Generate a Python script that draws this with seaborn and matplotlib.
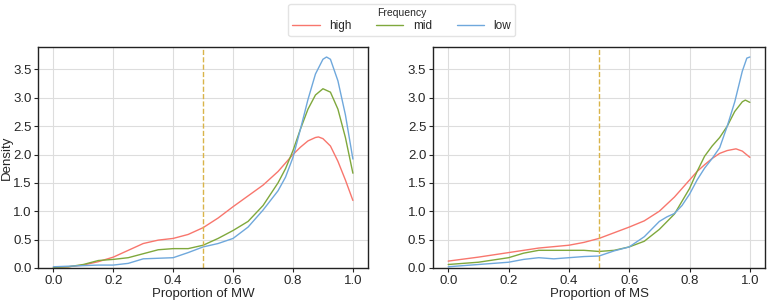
import numpy as np
import pandas as pd
import matplotlib
matplotlib.use("Agg")
import matplotlib.pyplot as plt
import seaborn as sns

# ---- values (density curves) ----
groups = ["high", "mid", "low"]
colors = {"high": "#F8766D", "mid": "#7FA83C", "low": "#6FA8DC"}

# left panel: Proportion of MW
mw_high_x = [0.0, 0.05, 0.1, 0.15, 0.2, 0.25, 0.3, 0.35, 0.4, 0.45, 0.5, 0.55, 0.6, 0.65, 0.7, 0.75,
             0.775, 0.8, 0.825, 0.85, 0.875, 0.885, 0.9, 0.925, 0.95, 0.975, 1.0]
mw_high_y = [0.01, 0.02, 0.05, 0.11, 0.19, 0.31, 0.43, 0.49, 0.52, 0.59, 0.71, 0.88, 1.08, 1.27, 1.46, 1.70,
             1.85, 2.00, 2.13, 2.24, 2.30, 2.31, 2.28, 2.15, 1.88, 1.55, 1.19]
mw_mid_x = [0.0, 0.05, 0.1, 0.15, 0.2, 0.25, 0.3, 0.35, 0.4, 0.45, 0.5, 0.55, 0.6, 0.65, 0.7, 0.75,
            0.775, 0.8, 0.825, 0.85, 0.875, 0.9, 0.925, 0.95, 0.975, 1.0]
mw_mid_y = [0.01, 0.02, 0.06, 0.13, 0.15, 0.18, 0.25, 0.32, 0.34, 0.34, 0.40, 0.52, 0.66, 0.82, 1.10, 1.50,
            1.75, 2.07, 2.45, 2.80, 3.05, 3.16, 3.10, 2.80, 2.30, 1.67]
mw_low_x = [0.0, 0.05, 0.1, 0.15, 0.2, 0.25, 0.3, 0.35, 0.4, 0.45, 0.5, 0.55, 0.6, 0.65, 0.7, 0.75,
            0.775, 0.8, 0.825, 0.85, 0.875, 0.9, 0.912, 0.925, 0.95, 0.975, 1.0]
mw_low_y = [0.02, 0.03, 0.04, 0.05, 0.05, 0.08, 0.16, 0.17, 0.18, 0.27, 0.37, 0.43, 0.52, 0.72, 1.02, 1.36,
            1.60, 1.95, 2.45, 2.97, 3.42, 3.68, 3.72, 3.68, 3.30, 2.70, 1.92]

# right panel: Proportion of MS
ms_high_x = [0.0, 0.1, 0.2, 0.3, 0.4, 0.45, 0.5, 0.55, 0.6, 0.65, 0.7, 0.75, 0.8, 0.825, 0.85, 0.875,
             0.9, 0.925, 0.954, 0.975, 1.0]
ms_high_y = [0.12, 0.19, 0.27, 0.35, 0.40, 0.45, 0.52, 0.62, 0.72, 0.83, 1.00, 1.25, 1.55, 1.70, 1.82, 1.93,
             2.02, 2.07, 2.10, 2.06, 1.95]
ms_mid_x = [0.0, 0.1, 0.2, 0.25, 0.3, 0.35, 0.4, 0.45, 0.5, 0.55, 0.6, 0.65, 0.7, 0.75, 0.8, 0.825,
            0.85, 0.875, 0.9, 0.925, 0.95, 0.975, 0.985, 1.0]
ms_mid_y = [0.06, 0.10, 0.18, 0.26, 0.31, 0.31, 0.31, 0.31, 0.29, 0.31, 0.37, 0.47, 0.68, 0.95, 1.40, 1.70,
            1.97, 2.15, 2.30, 2.50, 2.76, 2.93, 2.96, 2.92]
ms_low_x = [0.0, 0.1, 0.2, 0.25, 0.3, 0.35, 0.4, 0.45, 0.5, 0.55, 0.6, 0.65, 0.7, 0.725, 0.75, 0.775,
            0.8, 0.825, 0.85, 0.875, 0.9, 0.925, 0.95, 0.975, 0.99, 1.0]
ms_low_y = [0.02, 0.06, 0.10, 0.15, 0.18, 0.16, 0.18, 0.20, 0.21, 0.30, 0.37, 0.55, 0.82, 0.90, 0.96, 1.10,
            1.30, 1.55, 1.76, 1.93, 2.12, 2.50, 2.93, 3.47, 3.70, 3.72]


def long_df(parts):
    frames = []
    for name, xs, ys in parts:
        frames.append(pd.DataFrame({"x": xs, "density": ys, "Frequency": name}))
    return pd.concat(frames, ignore_index=True)


df_mw = long_df([("high", mw_high_x, mw_high_y), ("mid", mw_mid_x, mw_mid_y), ("low", mw_low_x, mw_low_y)])
df_ms = long_df([("high", ms_high_x, ms_high_y), ("mid", ms_mid_x, ms_mid_y), ("low", ms_low_x, ms_low_y)])

sns.set_theme(style="ticks")
plt.rcParams["font.family"] = ["Liberation Sans", "DejaVu Sans"]

fig = plt.figure(figsize=(7.68, 3.0), dpi=100)
ax1 = fig.add_axes([0.050, 0.107, 0.429, 0.737])
ax2 = fig.add_axes([0.564, 0.107, 0.432, 0.737])

for ax, df, xlabel in [(ax1, df_mw, "Proportion of MW"), (ax2, df_ms, "Proportion of MS")]:
    sns.lineplot(data=df, x="x", y="density", hue="Frequency", hue_order=groups,
                 palette=colors, estimator=None, linewidth=1.0, ax=ax, legend=False)
    ax.axvline(0.5, color="#D9B44A", linestyle="--", linewidth=1.0)
    ax.set_xlim(-0.05, 1.05)
    ax.set_ylim(0, 3.9)
    ax.set_xticks(np.arange(0, 1.01, 0.2))
    ax.set_yticks(np.arange(0, 3.6, 0.5))
    ax.grid(True, color="#dddddd", linewidth=0.8)
    ax.set_axisbelow(True)
    ax.tick_params(labelsize=9.5, length=3, width=0.8, pad=2)
    ax.set_xlabel(xlabel, fontsize=9.5, labelpad=1)
    for s in ax.spines.values():
        s.set_linewidth(1.0)
        s.set_color("#222222")

ax1.set_ylabel("Density", fontsize=9.5, labelpad=0)
ax2.set_ylabel("")

handles = [plt.Line2D([], [], color=colors[g], linewidth=1.0) for g in groups]
leg = fig.legend(handles, groups, title="Frequency", loc="upper center",
                 bbox_to_anchor=(0.523, 1.007), ncol=3, fontsize=8.5, title_fontsize=7.5,
                 handlelength=2.3, columnspacing=2.1, frameon=True, borderpad=0.35,
                 labelspacing=0.2)
leg.get_frame().set_edgecolor("#dddddd")

fig.savefig("out.png", dpi=100)
